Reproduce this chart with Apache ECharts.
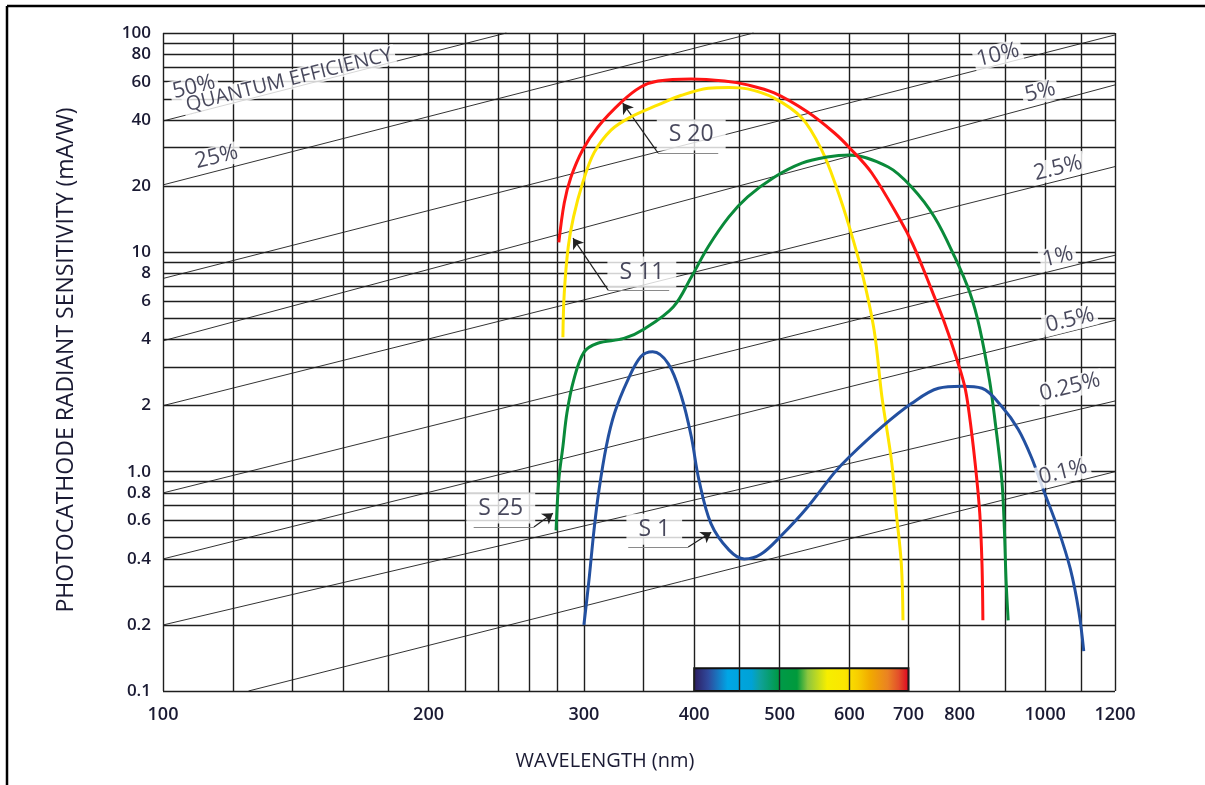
<!DOCTYPE html>
<html><head><meta charset="utf-8">
<script src="https://cdn.jsdelivr.net/npm/echarts@6/dist/echarts.min.js"></script>
<style>html,body{margin:0;padding:0;background:#fff}#c{width:1205px;height:785px}</style>
</head><body><div id="c"></div>
<script>
// ---------- tick labels & grid ----------
const xTickLabels = [100, 200, 300, 400, 500, 600, 700, 800, 1000, 1200];
const yTickLabels = [0.1, 0.2, 0.4, 0.6, 0.8, 1, 2, 4, 6, 8, 10, 20, 40, 60, 80, 100];
const xGridValues = [100,120,140,160,180,200,220,240,260,280,300,350,400,450,500,600,700,800,900,1000,1100,1200];
const yGridValues = [0.1,0.2,0.3,0.4,0.5,0.6,0.7,0.8,0.9,1,2,3,4,5,6,7,8,9,10,20,30,40,50,60,70,80,90,100];

// ---------- photocathode spectral response curves [wavelength nm, mA/W] ----------
const s20 = [[281,11.1],[285,16.8],[290,22.0],[299,29.3],[311,37.2],[331,48.5],[348,56.7],[364,60.4],[397,61.7],[433,60.4],[460,58],[493,53.3],[538,43.6],[577,35],[600,30],[636,23],[688,13.6],[707,11.0],[726,8.57],[746,6.52],[767,4.91],[788,3.58],[810,2.48],[820,1.85],[833,1.09],[843,0.65],[848,0.38],[850,0.21]];
const s11 = [[284,4.1],[285,6.5],[288,10.6],[292,14.5],[299,20.7],[308,28.4],[322,36.1],[339,41.4],[364,47],[387,52],[415,56],[438,56.5],[460,55.6],[493,50.5],[530,41],[558,29.3],[580,19.8],[600,13.0],[620,8.1],[640,4.4],[653,2.2],[670,1.1],[678,0.65],[687,0.38],[690,0.21]];
const s25 = [[279,0.54],[281,0.92],[284,1.3],[287,1.85],[292,2.6],[300,3.5],[311,3.85],[333,4.05],[352,4.5],[379,5.65],[397,7.7],[415,10.6],[438,14.5],[460,17.9],[493,22],[530,25.5],[566,27.2],[600,27.8],[664,24.5],[706,19.8],[749,14.5],[790,9.5],[822,6.5],[843,4.5],[865,2.6],[877,1.73],[893,0.92],[899,0.55],[903,0.32],[908,0.21]];
const s1 = [[300,0.2],[304,0.32],[308,0.54],[312,0.82],[318,1.3],[325,1.85],[336.5,2.62],[348,3.34],[359,3.52],[374,3.1],[387,2.2],[397,1.45],[405,0.92],[418,0.58],[438,0.44],[456,0.40],[476,0.42],[502,0.51],[538,0.69],[577,0.99],[600,1.17],[653,1.6],[706,2.05],[757,2.4],[804,2.45],[848,2.4],[893,1.98],[932,1.56],[965,1.16],[995,0.83],[1034,0.55],[1068,0.36],[1092,0.23],[1106,0.152]];

// ---------- quantum efficiency reference lines (end points) ----------
const qe50  = [[100,39.7],[245,100]];
const qe25  = [[100,20.3],[467,100]];
const qe10  = [[100,7.6],[1200,98]];
const qe5   = [[100,3.95],[1200,58]];
const qe2p5 = [[100,2.0],[1200,24.6]];
const qe1   = [[100,0.8],[1200,9.7]];
const qe0p5 = [[100,0.4],[1200,4.9]];
const qe0p25= [[100,0.2],[1200,2.1]];
const qe0p1 = [[125,0.1],[1200,1.0]];

// ---------- labels ----------
const qeLabelNames = ['10%','5%','2.5%','1%','0.5%','0.25%','0.1%','25%','50%','QUANTUM EFFICIENCY'];
const qeLabelPos   = [[884,79.4],[987,53.8],[1034,24.2],[1034,9.52],[1067,4.91],[1067,2.43],[1048,0.996],[115,27.2],[108.4,56.7],[139,61.0]];
const curveLabelNames = ['S 20','S 11','S 25','S 1'];
const curveLabelPos   = [[397,34.3],[349,8.13],[241.5,0.682],[360.5,0.547]];
// leader lines: [start(bottom corner of label), arrow tip on curve]
const leaderStart = [[364,28.4],[319.6,6.73],[263.3,0.559],[393.9,0.453]];
const leaderTip   = [[332,47.9],[291.6,11.6],[276.7,0.647],[418.3,0.53]];
const underlineEnd= [[426,28.4],[374.8,6.73],[225,0.559],[336.8,0.453]];

// spectrum bar
const spectrumRange = [400, 700];
const spectrumHeight = [0.1, 0.127];

const chart = echarts.init(document.getElementById('c'), null, {renderer:'canvas'});
const FONT = '"Open Sans", "Noto Sans", sans-serif';
const TXT = '#1a1a33';

function lineSeries(name, data, color, width, z, smooth) {
  return {type:'line', name, data, symbol:'none', smooth: smooth, silent:true, z,
    lineStyle:{color, width}, emphasis:{disabled:true}, clip:false};
}

const option = {
  animation:false,
  backgroundColor:'#fff',
  grid:{left:163, top:33, width:952, height:658, containLabel:false},
  xAxis:{type:'log', logBase:10, min:100, max:1200,
    axisLine:{show:false}, axisTick:{show:false}, splitLine:{show:false}, minorTick:{show:false}, minorSplitLine:{show:false},
    axisLabel:{customValues:xTickLabels, margin:15, fontSize:18, fontWeight:600, color:TXT, fontFamily:FONT,
      formatter:v=>String(v)}},
  yAxis:{type:'log', logBase:10, min:0.1, max:100,
    axisLine:{show:false}, axisTick:{show:false}, splitLine:{show:false}, minorTick:{show:false}, minorSplitLine:{show:false},
    axisLabel:{customValues:yTickLabels, margin:12, fontSize:17, fontWeight:600, color:TXT, fontFamily:FONT,
      formatter:v=>(v===1?'1.0':String(v))}},
  graphic:[
    {type:'line', shape:{x1:7, y1:6, x2:1205, y2:6}, style:{stroke:'#000', lineWidth:2.5}, z:100},
    {type:'line', shape:{x1:7, y1:6, x2:7, y2:785}, style:{stroke:'#000', lineWidth:2.5}, z:100},
    {type:'text', x:66, y:360, rotation:Math.PI/2, style:{text:'PHOTOCATHODE RADIANT SENSITIVITY (mA/W)', font:'23px '+FONT, fill:TXT, align:'center', verticalAlign:'middle'}, z:100},
    {type:'text', x:605, y:761, style:{text:'WAVELENGTH (nm)', font:'20px '+FONT, fill:TXT, align:'center', verticalAlign:'middle'}, z:100}
  ],
  series:[
    {type:'line', name:'grid', data:[], silent:true, z:1,
      markLine:{silent:true, symbol:['none','none'], label:{show:false}, emphasis:{disabled:true},
        lineStyle:{color:'#1e1e1e', width:1.4, type:'solid'},
        data:[...xGridValues.map(v=>({xAxis:v})), ...yGridValues.map(v=>({yAxis:v}))]}},
    lineSeries('QE 50%', qe50, '#333', 1, 2, false),
    lineSeries('QE 25%', qe25, '#333', 1, 2, false),
    lineSeries('QE 10%', qe10, '#333', 1, 2, false),
    lineSeries('QE 5%', qe5, '#333', 1, 2, false),
    lineSeries('QE 2.5%', qe2p5, '#333', 1, 2, false),
    lineSeries('QE 1%', qe1, '#333', 1, 2, false),
    lineSeries('QE 0.5%', qe0p5, '#333', 1, 2, false),
    lineSeries('QE 0.25%', qe0p25, '#333', 1, 2, false),
    lineSeries('QE 0.1%', qe0p1, '#333', 1, 2, false),
    {type:'line', name:'spectrum', data:[], silent:true, z:3,
      markArea:{silent:true, emphasis:{disabled:true},
        itemStyle:{borderColor:'#111', borderWidth:1.8,
          color:new echarts.graphic.LinearGradient(0,0,1,0,[
            {offset:0,color:'#2d1b5e'},{offset:0.07,color:'#2f4a9c'},{offset:0.16,color:'#00a6e6'},
            {offset:0.27,color:'#00a2d6'},{offset:0.31,color:'#0fa19a'},{offset:0.39,color:'#009a4a'},
            {offset:0.48,color:'#009a3c'},{offset:0.53,color:'#8dc63f'},{offset:0.62,color:'#f6ee00'},
            {offset:0.70,color:'#fbe600'},{offset:0.76,color:'#f7cf00'},{offset:0.82,color:'#f1a900'},
            {offset:0.90,color:'#ea8223'},{offset:0.95,color:'#e3502a'},{offset:1,color:'#e10020'}])},
        data:[[{coord:[spectrumRange[0], spectrumHeight[0]]},{coord:[spectrumRange[1], spectrumHeight[1]]}]]}},
    lineSeries('S11', s11, '#ffe500', 3, 5, 0.35),
    lineSeries('S20', s20, '#ff1414', 3, 6, 0.35),
    lineSeries('S25', s25, '#0a8a3a', 3, 5, 0.35),
    lineSeries('S1', s1, '#2350a0', 3, 5, 0.35),
    {type:'scatter', name:'qeLabels', silent:true, z:10, symbolSize:0,
      data: qeLabelNames.map((n,i)=>({name:n, value:qeLabelPos[i],
        label:{rotate:14, fontSize: n.length>6?20:22}})),
      label:{show:true, position:'inside', formatter:'{b}', color:TXT, fontFamily:FONT,
        backgroundColor:'#fff', padding:[0,3]}},
    {type:'scatter', name:'curveLabels', silent:true, z:10, symbolSize:0,
      data: curveLabelNames.map((n,i)=>({name:n, value:curveLabelPos[i]})),
      label:{show:true, position:'inside', formatter:'{b}', color:TXT, fontFamily:FONT, fontSize:23,
        backgroundColor:'#fff', padding:[4,12]}},
    {type:'line', name:'underlines', data:[], silent:true, z:11,
      markLine:{silent:true, symbol:['none','none'], label:{show:false}, emphasis:{disabled:true},
        lineStyle:{color:'#8a8a8a', width:1.2, type:'solid'},
        data: leaderStart.map((p,i)=>[{coord:p},{coord:underlineEnd[i]}])}},
    {type:'line', name:'leaders', data:[], silent:true, z:11,
      markLine:{silent:true, symbol:['none','arrow'], symbolSize:10, label:{show:false}, emphasis:{disabled:true},
        lineStyle:{color:'#222', width:1.2, type:'solid'},
        itemStyle:{color:'#111'},
        data: leaderStart.map((p,i)=>[{coord:p},{coord:leaderTip[i]}])}}
  ]
};
chart.setOption(option);
</script></body></html>
